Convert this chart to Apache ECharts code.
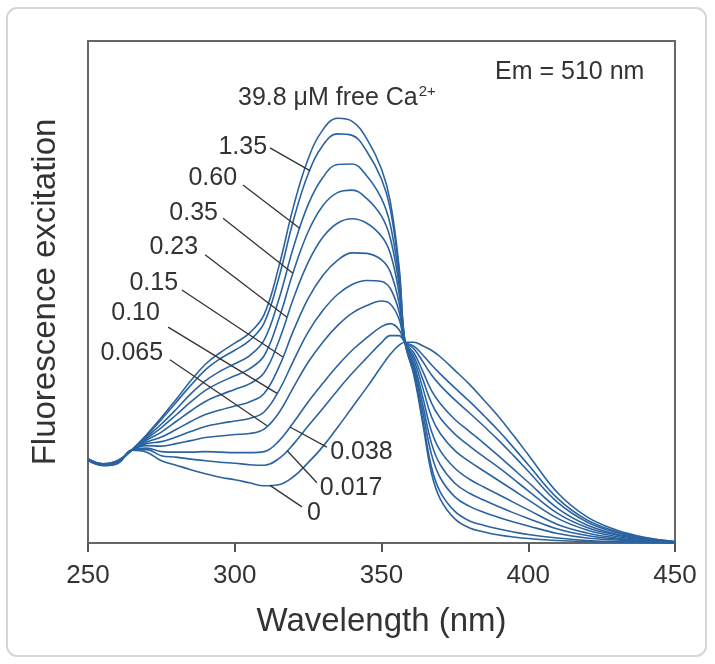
<!DOCTYPE html>
<html>
<head>
<meta charset="utf-8">
<script src="https://cdn.jsdelivr.net/npm/echarts@6.0.0/dist/echarts.min.js"></script>
<style>
  html, body { margin: 0; padding: 0; background: #fff; }
  #chart { width: 715px; height: 664px; }
</style>
</head>
<body>
<div id="chart"></div>
<script>
// excitation wavelength (nm)
const wavelengths = [250, 255, 260, 265, 270, 275, 280, 285, 290, 295, 300, 305, 310, 315, 320, 325, 330, 335, 340, 345, 350, 353, 356, 358, 361, 364, 367, 370, 375, 380, 385, 390, 395, 400, 410, 420, 430, 440, 450];

// fluorescence at each free Ca2+ level (uM)
const ca0    = [16.4, 15.4, 15.8, 18.5, 18.1, 16.4, 15.5, 14.6, 13.8, 13.1, 12.6, 12.0, 11.4, 11.6, 13.2, 16.0, 19.2, 23.0, 27.0, 31.0, 35.2, 37.6, 39.4, 40.0, 40.0, 39.3, 38.4, 37.1, 34.4, 31.6, 28.4, 25.1, 21.4, 17.6, 10.0, 5.2, 2.6, 1.1, 0.3];
const ca0017 = [16.5, 15.5, 15.9, 18.5, 18.6, 17.4, 17.1, 16.7, 16.4, 16.1, 15.9, 15.6, 15.5, 16.8, 19.7, 23.3, 26.8, 30.4, 33.8, 36.9, 39.9, 41.3, 41.3, 40.0, 39.2, 37.5, 35.5, 33.7, 30.9, 28.2, 25.3, 22.3, 19.0, 15.6, 8.9, 4.6, 2.3, 1.0, 0.3];
const ca0038 = [16.5, 15.5, 15.9, 18.5, 18.9, 18.2, 18.1, 18.1, 18.2, 18.1, 18.0, 18.0, 18.2, 20.3, 24.0, 28.1, 31.8, 35.3, 38.4, 40.9, 43.1, 43.7, 42.5, 40.0, 38.7, 36.2, 33.5, 31.4, 28.5, 25.9, 23.2, 20.4, 17.4, 14.3, 8.1, 4.2, 2.1, 0.9, 0.2];
const ca0065 = [16.5, 15.5, 16.0, 18.5, 19.4, 19.3, 19.8, 20.4, 21.0, 21.3, 21.6, 21.8, 22.7, 25.9, 31.0, 36.0, 40.0, 43.3, 45.8, 47.3, 48.2, 47.6, 44.6, 40.0, 37.9, 34.3, 30.4, 27.8, 24.6, 22.2, 19.8, 17.3, 14.7, 12.1, 6.9, 3.6, 1.8, 0.8, 0.2];
const ca010  = [16.6, 15.6, 16.1, 18.5, 19.8, 20.2, 21.1, 22.2, 23.2, 23.8, 24.3, 24.8, 26.1, 30.3, 36.3, 42.0, 46.3, 49.5, 51.5, 52.3, 52.1, 50.7, 46.1, 40.0, 37.2, 32.7, 27.9, 24.9, 21.7, 19.3, 17.1, 15.0, 12.7, 10.4, 5.9, 3.1, 1.6, 0.7, 0.2];
const ca015  = [16.6, 15.6, 16.1, 18.5, 20.1, 21.1, 22.6, 24.2, 25.6, 26.5, 27.3, 28.1, 29.8, 35.0, 42.3, 48.7, 53.3, 56.3, 57.8, 57.7, 56.4, 54.0, 47.8, 40.0, 36.5, 31.0, 25.2, 21.8, 18.4, 16.2, 14.3, 12.4, 10.5, 8.6, 4.9, 2.6, 1.3, 0.6, 0.1];
const ca023  = [16.7, 15.7, 16.2, 18.5, 20.5, 22.1, 24.2, 26.3, 28.2, 29.5, 30.6, 31.7, 33.9, 40.2, 48.7, 55.9, 60.9, 63.7, 64.6, 63.7, 61.1, 57.7, 49.7, 40.0, 35.7, 29.2, 22.3, 18.4, 14.9, 12.7, 11.1, 9.6, 8.1, 6.6, 3.7, 2.0, 1.0, 0.4, 0.1];
const ca035  = [16.7, 15.7, 16.3, 18.5, 20.8, 23.0, 25.5, 28.1, 30.4, 32.0, 33.3, 34.7, 37.3, 44.6, 54.1, 62.0, 67.2, 69.8, 70.3, 68.6, 65.1, 60.7, 51.3, 40.0, 35.1, 27.7, 19.9, 15.6, 11.9, 9.9, 8.5, 7.2, 6.0, 4.9, 2.8, 1.5, 0.8, 0.3, 0.1];
const ca060  = [16.7, 15.7, 16.3, 18.6, 21.1, 23.7, 26.6, 29.7, 32.3, 34.2, 35.7, 37.3, 40.4, 48.5, 58.9, 67.4, 72.8, 75.4, 75.5, 73.1, 68.6, 63.4, 52.7, 40.0, 34.5, 26.3, 17.7, 13.0, 9.2, 7.3, 6.1, 5.1, 4.2, 3.4, 1.9, 1.0, 0.6, 0.3, 0.0];
const ca135  = [16.8, 15.8, 16.4, 18.6, 21.4, 24.6, 28.0, 31.4, 34.5, 36.7, 38.4, 40.3, 43.8, 52.8, 64.3, 73.5, 79.2, 81.5, 81.2, 78.0, 72.5, 66.5, 54.2, 40.0, 33.8, 24.8, 15.2, 10.2, 6.3, 4.4, 3.5, 2.8, 2.2, 1.7, 1.0, 0.5, 0.3, 0.2, 0.0];
const ca398  = [16.8, 15.8, 16.4, 18.6, 21.6, 25.0, 28.6, 32.3, 35.6, 37.9, 39.8, 41.8, 45.5, 55.0, 67.0, 76.5, 82.3, 84.6, 84.0, 80.5, 74.5, 68.0, 55.0, 40.0, 33.5, 24.0, 14.0, 8.8, 4.8, 3.0, 2.2, 1.6, 1.2, 0.9, 0.5, 0.3, 0.2, 0.1, 0.0];

const curveNames = ['0', '0.017', '0.038', '0.065', '0.10', '0.15', '0.23', '0.35', '0.60', '1.35', '39.8'];
const curves = [ca0, ca0017, ca0038, ca0065, ca010, ca015, ca023, ca035, ca060, ca135, ca398];

const xTicks = [250, 300, 350, 400, 450];

// curve labels with leader lines: text, curve index, label anchor, line start, wavelength the line points to
const labelText   = ['1.35', '0.60', '0.35', '0.23', '0.15', '0.10', '0.065', '0.038', '0.017', '0'];
const labelCurve  = [9, 8, 7, 6, 5, 4, 3, 2, 1, 0];
const labelSide   = ['left', 'left', 'left', 'left', 'left', 'left', 'left', 'right', 'right', 'right'];
const labelAt     = [[311, 78.9], [300.8, 72.7], [294.3, 65.7], [287.5, 59.0], [280.7, 51.8], [274.5, 45.8], [275.6, 37.8], [332.5, 18.1], [329.0, 11.0], [324.6, 6.0]];
const leaderFrom  = [[312, 78.7], [302.8, 71.3], [296, 64.7], [289.9, 57.4], [282, 50.4], [277.3, 43.0], [277.9, 36.5], [331.4, 19.1], [328, 12.0], [322.9, 7.2]];
const leaderTo    = [325.6, 322.2, 319.8, 317.8, 316.4, 314.4, 311, 318.8, 317.8, 312];

// value of a curve at a wavelength (for the end of a leader line)
function valueAt(curve, w) {
  for (let i = 0; i < wavelengths.length - 1; i++) {
    const a = wavelengths[i], b = wavelengths[i + 1];
    if (w >= a && w <= b) {
      const t = (w - a) / (b - a);
      return curve[i] + t * (curve[i + 1] - curve[i]);
    }
  }
  return curve[curve.length - 1];
}

const font = 'Liberation Sans, Arial, Helvetica, sans-serif';
const lineColor = '#2a63a0';
const textColor = '#333';

const series = [];

curves.forEach((c, k) => {
  series.push({
    name: curveNames[k],
    type: 'line',
    data: wavelengths.map((w, i) => [w, c[i]]),
    smooth: 0.4,
    showSymbol: false,
    symbol: 'none',
    silent: true,
    lineStyle: { color: lineColor, width: 1.6 },
    z: 3
  });
});

// leader lines
labelText.forEach((t, k) => {
  const target = leaderTo[k];
  series.push({
    type: 'line',
    data: [leaderFrom[k], [target, valueAt(curves[labelCurve[k]], target)]],
    showSymbol: false,
    symbol: 'none',
    silent: true,
    lineStyle: { color: '#333', width: 1.3 },
    z: 4
  });
});

// label texts
series.push({
  type: 'scatter',
  symbolSize: 0,
  silent: true,
  itemStyle: { opacity: 1 },
  data: labelText.map((t, k) => ({
    value: labelAt[k],
    label: {
      show: true,
      formatter: t,
      position: labelSide[k],
      distance: 0,
      fontSize: 25,
      fontFamily: font,
      color: textColor,
      opacity: 1
    }
  })),
  z: 5
});

const chart = echarts.init(document.getElementById('chart'));
chart.setOption({
  animation: false,
  backgroundColor: '#fff',
  title: [
    {
      text: '{n|39.8 μM free Ca}{s|2+}',
      left: 238,
      top: 84,
      padding: 0,
      textStyle: {
        fontWeight: 'normal',
        rich: {
          n: { fontSize: 25, fontFamily: font, fontWeight: 'normal', color: textColor, lineHeight: 28 },
          s: { fontSize: 15, fontFamily: font, fontWeight: 'normal', color: textColor, verticalAlign: 'top', lineHeight: 28, padding: [0, 0, 10, 1] }
        }
      }
    },
    {
      text: 'Em = 510 nm',
      left: 495,
      top: 60,
      padding: 0,
      textStyle: { fontSize: 25, fontFamily: font, fontWeight: 'normal', color: textColor }
    }
  ],
  graphic: [
    {
      type: 'rect',
      shape: { x: 7, y: 8, width: 699, height: 648, r: 10 },
      style: { fill: 'none', stroke: '#d6d6d6', lineWidth: 2 },
      silent: true,
      z: -1
    }
  ],
  grid: {
    left: 88,
    right: 40,
    top: 41,
    bottom: 121,
    show: true,
    borderColor: '#666',
    borderWidth: 2,
    backgroundColor: '#fff'
  },
  xAxis: {
    type: 'value',
    min: xTicks[0],
    max: xTicks[xTicks.length - 1],
    interval: 50,
    name: 'Wavelength (nm)',
    nameLocation: 'middle',
    nameGap: 62,
    nameTextStyle: { fontSize: 33, fontFamily: font, color: textColor },
    axisLine: { show: false },
    axisTick: { show: true, length: 9, lineStyle: { color: '#555', width: 2 } },
    axisLabel: { fontSize: 26, fontFamily: font, color: textColor, margin: 20 },
    splitLine: { show: false }
  },
  yAxis: {
    type: 'value',
    min: 0,
    max: 100,
    name: 'Fluorescence excitation',
    nameLocation: 'middle',
    nameRotate: 90,
    nameGap: 26,
    nameTextStyle: { fontSize: 33, fontFamily: font, color: textColor },
    axisLine: { show: false },
    axisTick: { show: false },
    axisLabel: { show: false },
    splitLine: { show: false }
  },
  series: series
});
</script>
</body>
</html>
